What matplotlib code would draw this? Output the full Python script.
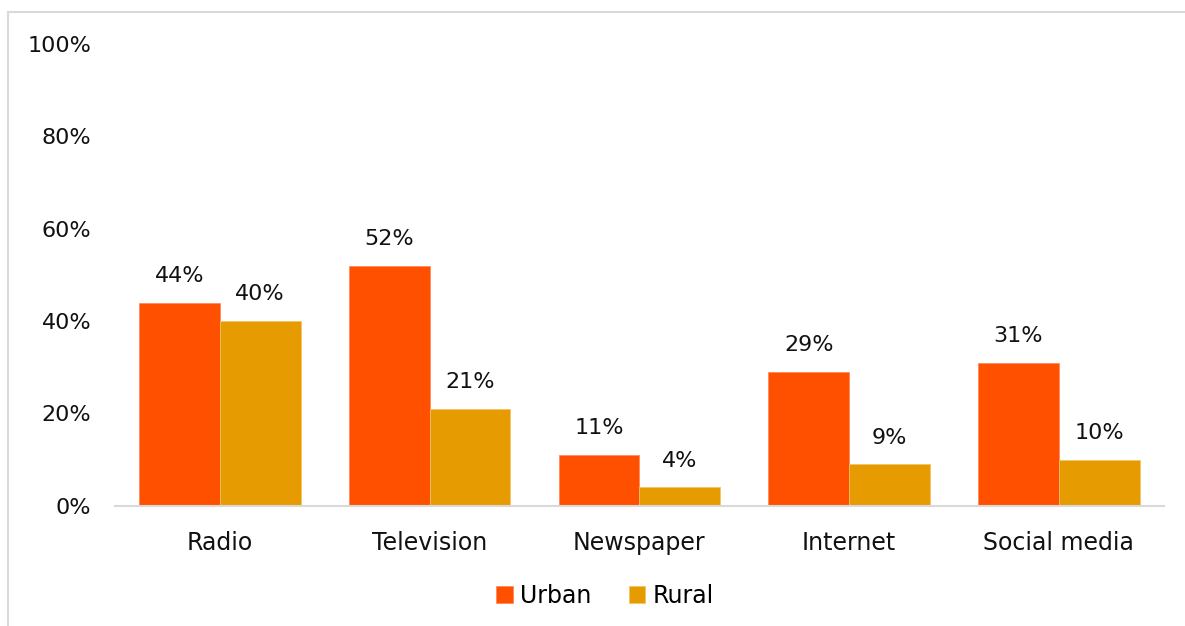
import numpy as np
import matplotlib.pyplot as plt
from matplotlib.patches import Rectangle

categories = ["Radio", "Television", "Newspaper", "Internet", "Social media"]
urban = [44, 52, 11, 29, 31]
rural = [40, 21, 4, 9, 10]
series_names = ["Urban", "Rural"]
colors = ["#FF5000", "#E69C00"]
yticks = [0, 20, 40, 60, 80, 100]

plt.rcParams['font.family'] = ['DejaVu Sans']

fig = plt.figure(figsize=(11.85, 6.26), dpi=100)
ax = fig.add_axes([0.097, 0.1917, 0.885, 0.7388])

# light frame around the chart area
fig.patches.append(Rectangle((8 / 1185, -0.1), 1.2, 1 - 11.5 / 626 + 0.1,
                             transform=fig.transFigure, fill=False,
                             edgecolor="#D9D9D9", linewidth=1.5))

x = np.arange(len(categories))
w = 0.385
b1 = ax.bar(x - w / 2, urban, w, color=colors[0], edgecolor="#FF8A5C",
            linewidth=0.6, label=series_names[0])
b2 = ax.bar(x + w / 2, rural, w, color=colors[1], edgecolor="#F2C36A",
            linewidth=0.6, label=series_names[1])

for bars, vals in [(b1, urban), (b2, rural)]:
    for bar, v in zip(bars, vals):
        ax.annotate(f"{v}%", (bar.get_x() + bar.get_width() / 2, v),
                    xytext=(0, 12), textcoords="offset points",
                    ha="center", va="bottom", fontsize=16, color="#111111")

ax.set_xlim(-0.5, len(categories) - 0.5)
ax.set_ylim(0, 100)
ax.set_yticks(yticks)
ax.set_yticklabels([f"{t}%" for t in yticks])
ax.set_xticks(x)
ax.set_xticklabels(categories)
ax.tick_params(axis="both", length=0, labelsize=16, colors="#111111")
ax.tick_params(axis="x", labelsize=17, pad=18)
ax.tick_params(axis="y", pad=17)

for s in ["top", "right", "left"]:
    ax.spines[s].set_visible(False)
ax.spines["bottom"].set_color("#D9D9D9")
ax.spines["bottom"].set_linewidth(1.5)

fig.legend(loc="center", bbox_to_anchor=(605 / 1185, 1 - 596 / 626), ncol=2,
           frameon=False, fontsize=17, handlelength=0.7, handleheight=0.7,
           handletextpad=0.3, columnspacing=1.6)

fig.savefig("out.png", dpi=100)
